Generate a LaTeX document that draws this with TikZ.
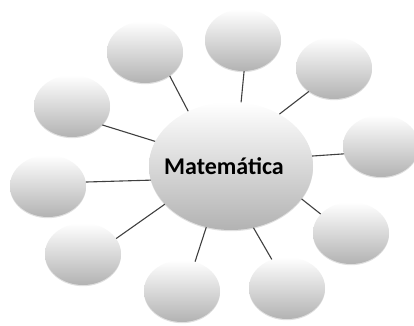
\documentclass[tikz,border=0pt]{standalone}
\usepackage{fontspec}
\setmainfont{Carlito}
\usetikzlibrary{shapes.geometric,shadows}

\tikzset{
  bubble/.style={ellipse, inner sep=0pt, minimum width=76pt, minimum height=62pt,
    top color=white, bottom color=black!30, draw=none,
    drop shadow={shadow xshift=0pt, shadow yshift=-1.2pt, fill=black, opacity=.12}},
  link/.style={draw=black!75, line width=1.1pt}
}

\begin{document}
\begin{tikzpicture}[x=1pt, y=1pt, font=\bfseries\fontsize{24}{28}\selectfont]
    \useasboundingbox (0,0) rectangle (414,325);
    % centre
    \node[bubble, minimum width=164pt, minimum height=128pt] (mat) at (231,159) {\hspace*{-14pt}Matemática};
    % outer bubbles
    \foreach \n/\x/\y in {1/145/273,2/243/285,3/334/257,4/381/179,5/72/219,6/48/139,7/83/71,8/182/34,9/287/37,10/351/92}
      \node[bubble] (s\n) at (\x,\y) {};
    % links
    \foreach \n/\a/\b in {1/128/316,2/81/272,3/47/223,4/7/192,5/162/328,6/190/6,7/210/25,8/248/66,9/290/118,10/335/148}
      \draw[link] (mat.\a) -- (s\n.\b);
\end{tikzpicture}
\end{document}
